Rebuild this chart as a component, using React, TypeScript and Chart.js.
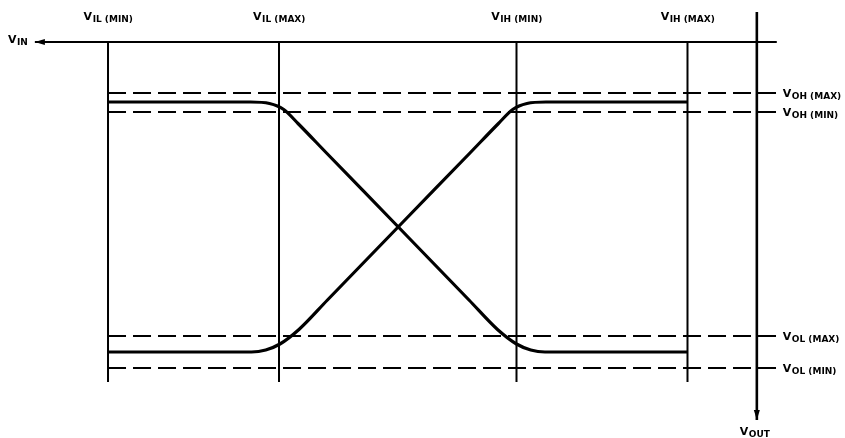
import React, { useEffect, useRef } from "react";
import { Chart, registerables } from "chart.js";

Chart.register(...registerables);

// ---- Data (abstract voltage units) ----
const inputLabels = ["IL (MIN)", "IL (MAX)", "IH (MIN)", "IH (MAX)"];
const inputThresholds = [0, 1.8, 4.3, 6.1];

const outputLabels = ["OH (MAX)", "OH (MIN)", "OL (MAX)", "OL (MIN)"];
const outputLevels = [5.5, 5.12, 0.64, 0];

const fallingX = [0, 1.5, 1.7, 1.85, 2.0, 2.3, 3.0, 3.8, 4.1, 4.3, 4.45, 4.6, 6.1];
const fallingY = [5.32, 5.32, 5.29, 5.17, 4.89, 4.3, 2.93, 1.36, 0.77, 0.48, 0.36, 0.32, 0.32];

const risingX = [0, 1.51, 1.66, 1.81, 2.01, 2.31, 3.11, 3.81, 4.11, 4.26, 4.41, 4.61, 6.1];
const risingY = [0.32, 0.32, 0.36, 0.48, 0.77, 1.36, 2.93, 4.3, 4.89, 5.17, 5.29, 5.32, 5.32];

const vinAxisX = [-0.77, 7.04];
const vinAxisY = 6.52;
const voutAxisX = 6.83;
const voutAxisY = [7.12, -1.04];
const thresholdBottom = -0.28;
const levelLineEnd = 7.04;

const vinLabel = "IN";
const voutLabel = "OUT";

// ---- helpers ----
const pts = (xs: number[], ys: number[]) => xs.map((x, i) => ({ x, y: ys[i] }));

const FONT_MAIN = 'bold 11px "DejaVu Sans"';
const FONT_SUB = 'bold 9px "DejaVu Sans"';

function drawVLabel(
  ctx: CanvasRenderingContext2D,
  sub: string,
  x: number,
  y: number,
  align: "left" | "center",
  subDrop: number
) {
  ctx.font = FONT_MAIN;
  const wV = ctx.measureText("V").width;
  ctx.font = FONT_SUB;
  const wS = ctx.measureText(sub).width;
  const total = wV + wS;
  const x0 = align === "center" ? x - total / 2 : x;
  ctx.textAlign = "left";
  ctx.textBaseline = "alphabetic";
  ctx.font = FONT_MAIN;
  ctx.fillText("V", x0, y);
  ctx.font = FONT_SUB;
  ctx.fillText(sub, x0 + wV + 0.5, y + subDrop);
}

const labelPlugin = {
  id: "diagramLabels",
  afterDraw(chart: any) {
    const { ctx, scales } = chart;
    const xs = scales.x;
    const ys = scales.y;
    ctx.save();
    ctx.fillStyle = "#000";
    const topY = ys.getPixelForValue(vinAxisY) - 22;
    inputThresholds.forEach((t, i) => {
      drawVLabel(ctx, inputLabels[i], xs.getPixelForValue(t), topY, "center", 2);
    });
    const rightX = xs.getPixelForValue(levelLineEnd) + 6;
    outputLevels.forEach((lv, i) => {
      drawVLabel(ctx, outputLabels[i], rightX, ys.getPixelForValue(lv) + 4, "left", 1.5);
    });
    drawVLabel(ctx, vinLabel, 8, ys.getPixelForValue(vinAxisY) + 1, "left", 2);
    drawVLabel(
      ctx,
      voutLabel,
      xs.getPixelForValue(voutAxisX) - 17,
      ys.getPixelForValue(voutAxisY[1]) + 15,
      "left",
      1.5
    );
    ctx.restore();
  },
};

const arrowPlugin = {
  id: "arrowHeads",
  afterDatasetsDraw(chart: any) {
    const { ctx } = chart;
    chart.data.datasets.forEach((ds: any, i: number) => {
      if (!ds.arrowAt) return;
      const p = chart.getDatasetMeta(i).data;
      const tip = ds.arrowAt === "start" ? p[0] : p[p.length - 1];
      const prev = ds.arrowAt === "start" ? p[1] : p[p.length - 2];
      const dx = tip.x - prev.x;
      const dy = tip.y - prev.y;
      const len = Math.hypot(dx, dy);
      const ux = dx / len;
      const uy = dy / len;
      const L = 10;
      const W = 3;
      ctx.save();
      ctx.fillStyle = "#000";
      ctx.beginPath();
      ctx.moveTo(tip.x, tip.y);
      ctx.lineTo(tip.x - ux * L - uy * W, tip.y - uy * L + ux * W);
      ctx.lineTo(tip.x - ux * L + uy * W, tip.y - uy * L - ux * W);
      ctx.closePath();
      ctx.fill();
      ctx.restore();
    });
  },
};

export default function App() {
  const ref = useRef<HTMLCanvasElement>(null);

  useEffect(() => {
    if (!ref.current) return;
    const base = {
      borderColor: "#000",
      pointRadius: 0,
      fill: false,
      tension: 0,
    };
    const datasets: any[] = [];

    // transfer curves
    datasets.push({
      ...base,
      data: pts(fallingX, fallingY),
      borderWidth: 3.2,
      cubicInterpolationMode: "monotone",
    });
    datasets.push({
      ...base,
      data: pts(risingX, risingY),
      borderWidth: 3.2,
      cubicInterpolationMode: "monotone",
    });

    // threshold vertical lines
    inputThresholds.forEach((t) => {
      datasets.push({
        ...base,
        data: [
          { x: t, y: vinAxisY },
          { x: t, y: thresholdBottom },
        ],
        borderWidth: 2,
      });
    });

    // output level dashed lines
    outputLevels.forEach((lv) => {
      datasets.push({
        ...base,
        data: [
          { x: inputThresholds[0], y: lv },
          { x: levelLineEnd, y: lv },
        ],
        borderWidth: 1.8,
        borderDash: [18, 7],
      });
    });

    // VIN axis
    datasets.push({
      ...base,
      data: [
        { x: vinAxisX[0], y: vinAxisY },
        { x: vinAxisX[1], y: vinAxisY },
      ],
      borderWidth: 2,
      arrowAt: "start",
    });

    // VOUT axis
    datasets.push({
      ...base,
      data: [
        { x: voutAxisX, y: voutAxisY[0] },
        { x: voutAxisX, y: voutAxisY[1] },
      ],
      borderWidth: 2.6,
      arrowAt: "end",
    });

    const chart = new Chart(ref.current, {
      type: "line",
      data: { datasets },
      options: {
        animation: false,
        responsive: false,
        devicePixelRatio: 1,
        events: [],
        layout: { padding: 0 },
        plugins: {
          legend: { display: false },
          tooltip: { enabled: false },
          title: { display: false },
        },
        scales: {
          x: { type: "linear", display: false, min: -1.137, max: 7.758 },
          y: { type: "linear", display: false, min: -1.4, max: 7.36 },
        },
      } as any,
      plugins: [labelPlugin, arrowPlugin],
    });
    return () => chart.destroy();
  }, []);

  return (
    <div
      style={{
        position: "fixed",
        left: 0,
        top: 0,
        width: 845,
        height: 438,
        background: "#fff",
      }}
    >
      <canvas ref={ref} width={845} height={438} style={{ display: "block" }} />
    </div>
  );
}
